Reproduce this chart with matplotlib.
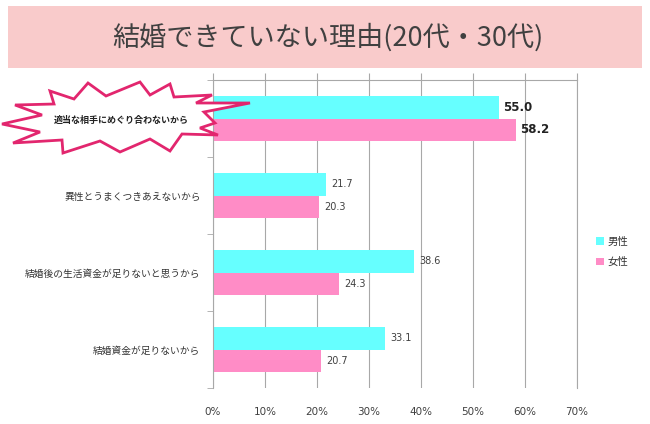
import matplotlib
matplotlib.use('Agg')
import matplotlib.pyplot as plt
from matplotlib.patches import Rectangle, Polygon
import numpy as np

plt.rcParams['font.family'] = ['Noto Sans CJK JP', 'DejaVu Sans']

# data
categories = ['適当な相手にめぐり合わないから',
              '異性とうまくつきあえないから',
              '結婚後の生活資金が足りないと思うから',
              '結婚資金が足りないから']
male = [55.0, 21.7, 38.6, 33.1]
female = [58.2, 20.3, 24.3, 20.7]
series_names = ['男性', '女性']
x_ticks = [0, 10, 20, 30, 40, 50, 60, 70]
title = '結婚できていない理由(20代・30代)'

cyan = '#66FFFF'
pink = '#FF8CC6'
grid_c = '#a8a8a8'

W, H = 650, 424
fig = plt.figure(figsize=(6.5, 4.24), dpi=100)

# title box
fig.patches.append(Rectangle((8 / W, 1 - 68 / H), 634 / W, 62 / H,
                             transform=fig.transFigure, facecolor='#f9cbcb',
                             edgecolor='none', zorder=0))
fig.text(328 / W, 1 - 37 / H, title, ha='center', va='center',
         fontsize=19.5, color='#404040')

ax = fig.add_axes([213 / W, 1 - 388 / H, 364 / W, 308 / H])
y = np.arange(len(categories))
h = 0.286
ax.barh(y - h / 2, male, height=h, color=cyan, zorder=2, label=series_names[0])
ax.barh(y + h / 2, female, height=h, color=pink, zorder=2, label=series_names[1])

for i in range(len(categories)):
    for val, off in ((male[i], -h / 2), (female[i], h / 2)):
        if i == 0:
            ax.text(val + 0.8, i + off, f'{val:.1f}', va='center', ha='left',
                    fontsize=8.5, fontweight='bold', color='#222222',
                    family='DejaVu Sans')
        else:
            ax.text(val + 1.0, i + off, f'{val:.1f}', va='center', ha='left',
                    fontsize=7, color='#404040', family='DejaVu Sans')

ax.set_xlim(0, 70)
ax.set_ylim(len(categories) - 0.5, -0.5)
ax.set_xticks(x_ticks)
ax.set_xticklabels([f'{t}%' for t in x_ticks], fontsize=7.5, color='#404040',
                   family='DejaVu Sans')
ax.tick_params(axis='x', bottom=False, top=True, length=5, color=grid_c,
               direction='out', pad=9, labelbottom=True, labeltop=False)
ax.xaxis.grid(True, color=grid_c, linewidth=0.8, zorder=0)
ax.axvline(70, color=grid_c, linewidth=0.8, zorder=0, clip_on=False)

ax.set_yticks(y)
ax.set_yticklabels([''] + categories[1:], fontsize=7, color='#333333')
ax.tick_params(axis='y', length=0, pad=9)
ax.set_yticks(np.arange(-0.5, len(categories) + 0.5, 1.0), minor=True)
ax.tick_params(axis='y', which='minor', length=4, color=grid_c, direction='out')

for s in ('bottom', 'right'):
    ax.spines[s].set_visible(False)
for s in ('left', 'top'):
    ax.spines[s].set_color(grid_c)
    ax.spines[s].set_linewidth(0.8)

# starburst callout for the first category
burst = [(2, 124), (42, 115), (15, 105), (54, 104), (50, 91), (74, 99),
         (88, 83), (106, 96), (140, 82), (150, 95), (170, 84), (174, 97),
         (212, 95), (196, 103), (250, 103), (204, 112), (215, 123),
         (200, 128), (218, 135), (182, 134), (170, 151), (150, 139),
         (120, 152), (100, 141), (63, 153), (62, 140), (13, 143), (40, 132)]
poly = Polygon([(bx / W, 1 - by / H) for bx, by in burst], closed=True,
               transform=fig.transFigure, facecolor='white',
               edgecolor='#e2266e', linewidth=2.0, zorder=5)
fig.patches.append(poly)
fig.text(121 / W, 1 - 120 / H, categories[0], ha='center', va='center',
         fontsize=6.5, fontweight='bold', color='#222222', zorder=6)

# legend
leg = fig.legend(loc='center left', bbox_to_anchor=(587 / W, 1 - 252 / H),
                 frameon=False, fontsize=7.5, handlelength=0.7, handleheight=0.7,
                 handletextpad=0.4, labelspacing=1.0)
for t in leg.get_texts():
    t.set_color('#333333')

fig.savefig('out.png', dpi=100)
